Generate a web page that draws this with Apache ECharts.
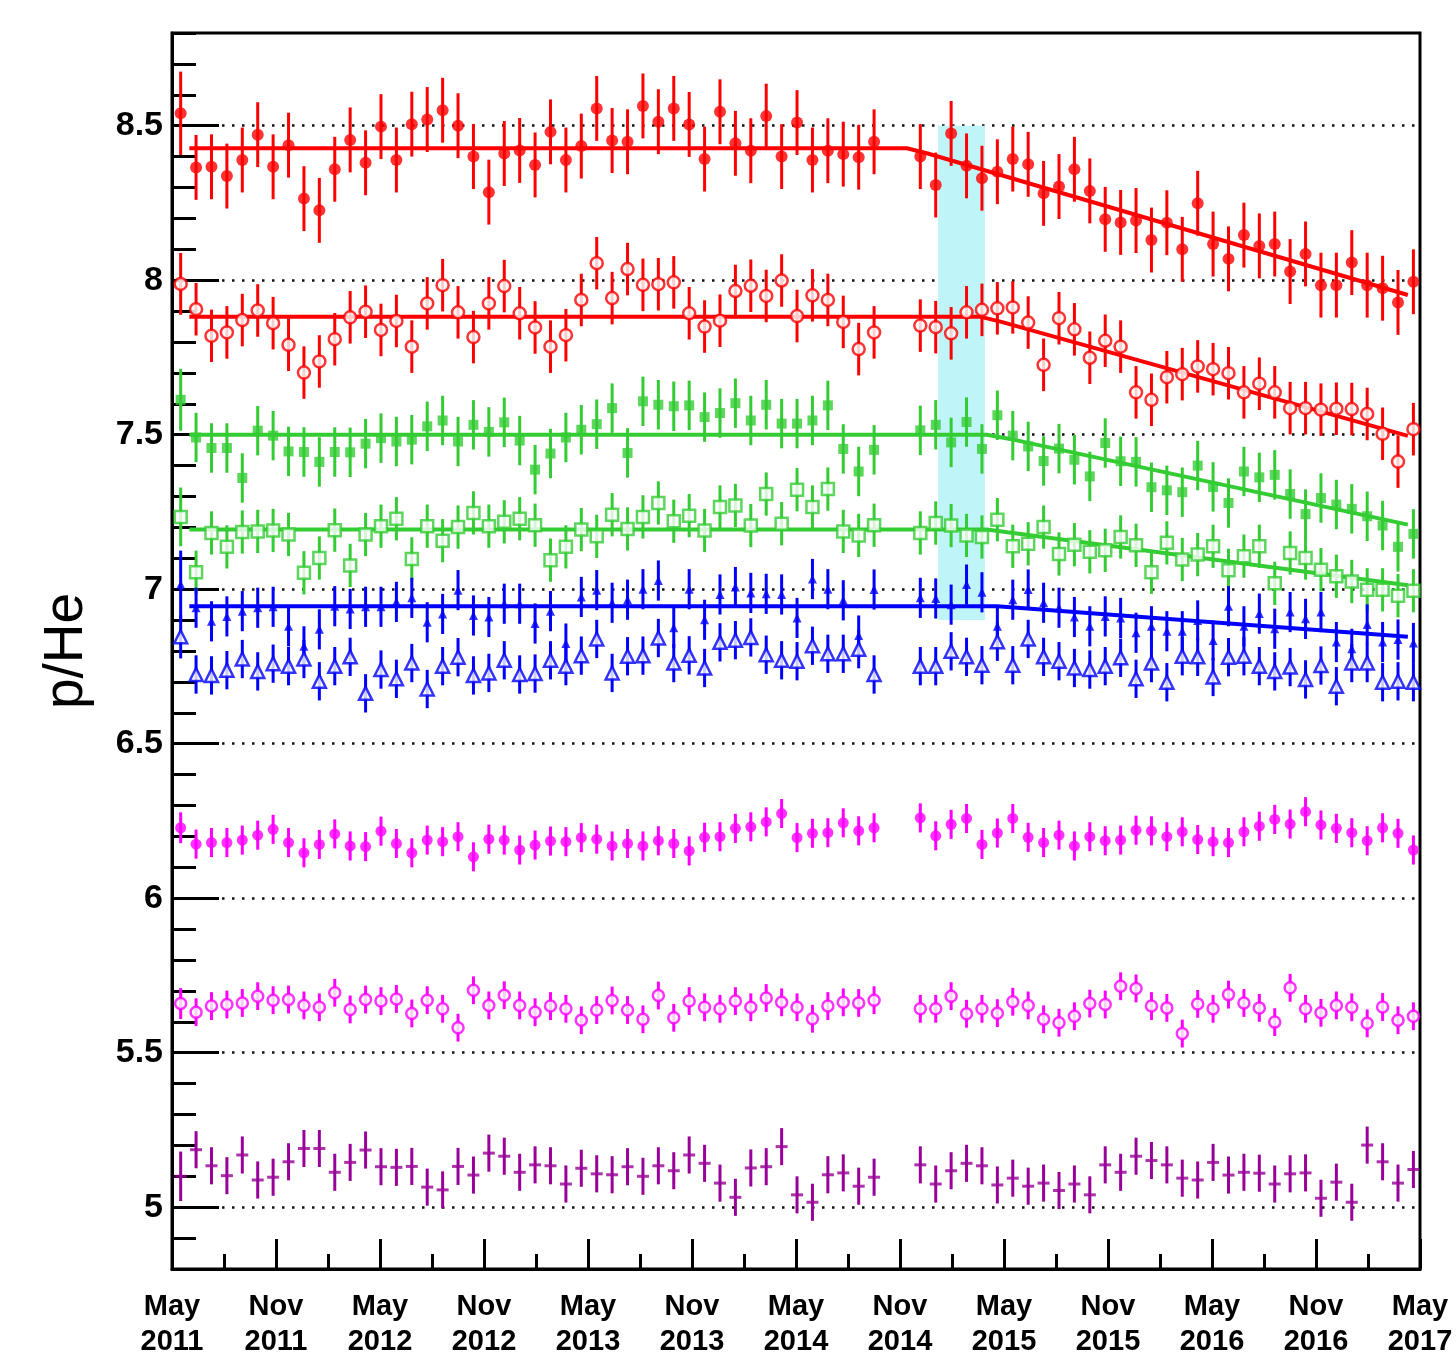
<!DOCTYPE html>
<html>
<head>
<meta charset="utf-8">
<title>p/He</title>
<script src="https://cdn.jsdelivr.net/npm/echarts@6/dist/echarts.min.js"></script>
<style>
    html, body { margin: 0; padding: 0; background: #fff; }
    #chart { width: 1456px; height: 1355px; }
</style>
</head>
<body>
<div id="chart"></div>
<script>
// p/He flux ratio per Bartels rotation, May 2011 - May 2017

// x: months since May 2011, one point per 27-day rotation (two rotations missing)
const rotationCount = 81;
const firstRotationMonth = 0.5;
const rotationMonths = 0.889;

const xTickLabels = ['May\n2011', 'Nov\n2011', 'May\n2012', 'Nov\n2012', 'May\n2013', 'Nov\n2013',
    'May\n2014', 'Nov\n2014', 'May\n2015', 'Nov\n2015', 'May\n2016', 'Nov\n2016', 'May\n2017'];
const yTickValues = [5, 5.5, 6, 6.5, 7, 7.5, 8, 8.5];

// series values (null = missing rotation)
const redFilled = [8.54, 8.365, 8.367, 8.337, 8.389, 8.471, 8.367, 8.437, 8.264, 8.226,
    8.359, 8.454, 8.38, 8.497, 8.389, 8.505, 8.52, 8.55, 8.50, 8.40,
    8.285, 8.41, 8.42, 8.373, 8.48, 8.389, 8.434, 8.556, 8.452, 8.448,
    8.564, 8.513, 8.556, 8.504, 8.392, 8.545, 8.443, 8.419, 8.531, 8.40,
    8.51, 8.389, 8.419, 8.408, 8.398, 8.448, null, null, 8.40, 8.308,
    8.475, 8.37, 8.33, 8.351, 8.392, 8.375, 8.281, 8.303, 8.359, 8.289,
    8.197, 8.187, 8.193, 8.13, 8.186, 8.10, 8.249, 8.117, 8.069, 8.146,
    8.111, 8.117, 8.028, 8.085, 7.984, 7.984, 8.057, 7.984, 7.974, 7.928, 7.995];
const redOpen = [7.988, 7.906, 7.82, 7.831, 7.871, 7.902, 7.861, 7.791, 7.701, 7.737,
    7.809, 7.88, 7.898, 7.839, 7.868, 7.785, 7.925, 7.984, 7.896, 7.816,
    7.925, 7.981, 7.893, 7.847, 7.785, 7.822, 7.936, 8.055, 7.942, 8.036,
    7.985, 7.987, 7.993, 7.893, 7.85, 7.869, 7.965, 7.982, 7.949, 7.999,
    7.884, 7.951, 7.936, 7.865, 7.777, 7.831, null, null, 7.853, 7.848,
    7.828, 7.896, 7.904, 7.909, 7.912, 7.863, 7.726, 7.877, 7.841, 7.749,
    7.804, 7.785, 7.637, 7.613, 7.686, 7.696, 7.721, 7.712, 7.699, 7.637,
    7.665, 7.637, 7.586, 7.586, 7.581, 7.584, 7.583, 7.567, 7.503, 7.413, 7.518];
const greenFilled = [7.613, 7.491, 7.457, 7.457, 7.36, 7.513, 7.497, 7.446, 7.444, 7.412,
    7.444, 7.443, 7.471, 7.489, 7.478, 7.484, 7.527, 7.546, 7.478, 7.532,
    7.509, 7.54, 7.481, 7.387, 7.439, 7.491, 7.516, 7.534, 7.586, 7.441,
    7.608, 7.597, 7.592, 7.595, 7.557, 7.57, 7.602, 7.546, 7.597, 7.536,
    7.536, 7.546, 7.595, 7.454, 7.381, 7.451, null, null, 7.514, 7.532,
    7.475, 7.541, 7.454, 7.563, 7.497, 7.462, 7.415, 7.455, 7.419, 7.365,
    7.473, 7.414, 7.412, 7.33, 7.32, 7.314, 7.40, 7.331, 7.279, 7.381,
    7.362, 7.37, 7.308, 7.243, 7.295, 7.274, 7.26, 7.236, 7.206, 7.137, 7.179];
const greenOpen = [7.234, 7.055, 7.182, 7.137, 7.185, 7.187, 7.19, 7.177, 7.053, 7.101,
    7.191, 7.077, 7.177, 7.204, 7.228, 7.098, 7.204, 7.157, 7.201, 7.247,
    7.204, 7.218, 7.228, 7.207, 7.094, 7.137, 7.193, 7.171, 7.241, 7.195,
    7.234, 7.279, 7.22, 7.238, 7.19, 7.266, 7.271, 7.206, 7.308, 7.212,
    7.322, 7.266, 7.324, 7.187, 7.174, 7.207, null, null, 7.182, 7.214,
    7.206, 7.174, 7.169, 7.225, 7.139, 7.147, 7.201, 7.114, 7.144, 7.121,
    7.126, 7.169, 7.142, 7.055, 7.15, 7.096, 7.112, 7.139, 7.061, 7.107,
    7.139, 7.019, 7.117, 7.101, 7.063, 7.042, 7.025, 6.998, 6.998, 6.979, 6.995];
const blueFilled = [7.015, 6.94, 6.896, 6.912, 6.929, 6.94, 6.943, 6.88, 6.815, 6.87,
    6.945, 6.936, 6.943, 6.943, 6.959, 6.972, 6.893, 6.92, 6.997, 6.915,
    6.91, 6.953, 6.953, 6.889, 6.929, 6.824, 6.975, 6.997, 6.956, 6.966,
    7.0, 7.028, 6.875, 7.0, 6.901, 6.983, 7.007, 6.988, 6.985, 6.983,
    6.907, 7.033, 7.0, 6.964, 6.85, 6.999, null, null, 6.972, 6.97,
    6.95, 7.015, 6.99, 6.88, 6.966, 6.999, 6.956, 6.94, 6.91, 6.88,
    6.912, 6.907, 6.859, 6.88, 6.864, 6.864, 6.899, 6.834, 6.945, 6.88,
    6.921, 6.872, 6.926, 6.904, 6.926, 6.829, 6.807, 6.886, 6.829, 6.837, 6.826];
const blueOpen = [6.846, 6.724, 6.721, 6.738, 6.774, 6.734, 6.759, 6.751, 6.774, 6.702,
    6.751, 6.781, 6.663, 6.74, 6.71, 6.761, 6.677, 6.751, 6.78, 6.721,
    6.729, 6.77, 6.724, 6.727, 6.77, 6.751, 6.785, 6.839, 6.729, 6.783,
    6.785, 6.842, 6.761, 6.786, 6.745, 6.828, 6.835, 6.844, 6.788, 6.77,
    6.767, 6.817, 6.791, 6.791, 6.806, 6.724, null, null, 6.751, 6.751,
    6.799, 6.781, 6.754, 6.83, 6.754, 6.839, 6.781, 6.767, 6.745, 6.74,
    6.751, 6.778, 6.71, 6.761, 6.699, 6.783, 6.781, 6.716, 6.78, 6.783,
    6.751, 6.734, 6.748, 6.708, 6.753, 6.686, 6.761, 6.761, 6.699, 6.702, 6.699];
const magentaFilled = [6.228, 6.175, 6.18, 6.18, 6.188, 6.204, 6.223, 6.18, 6.147, 6.174,
    6.208, 6.169, 6.167, 6.217, 6.177, 6.147, 6.188, 6.183, 6.199, 6.134,
    6.191, 6.188, 6.156, 6.172, 6.185, 6.183, 6.196, 6.191, 6.169, 6.177,
    6.169, 6.186, 6.177, 6.153, 6.197, 6.199, 6.226, 6.231, 6.247, 6.274,
    6.196, 6.21, 6.212, 6.244, 6.218, 6.228, null, null, 6.26, 6.202,
    6.239, 6.258, 6.174, 6.211, 6.258, 6.197, 6.18, 6.204, 6.169, 6.199,
    6.186, 6.188, 6.22, 6.218, 6.199, 6.215, 6.19, 6.183, 6.18, 6.215,
    6.233, 6.255, 6.24, 6.28, 6.237, 6.226, 6.212, 6.186, 6.228, 6.21, 6.156];
const magentaOpen = [5.659, 5.631, 5.651, 5.656, 5.661, 5.683, 5.67, 5.672, 5.653, 5.647,
    5.694, 5.64, 5.672, 5.667, 5.674, 5.627, 5.67, 5.642, 5.581, 5.702,
    5.653, 5.686, 5.653, 5.631, 5.651, 5.642, 5.605, 5.638, 5.669, 5.638,
    5.608, 5.685, 5.613, 5.667, 5.647, 5.642, 5.667, 5.647, 5.677, 5.663,
    5.647, 5.61, 5.651, 5.663, 5.661, 5.67, null, null, 5.642, 5.642,
    5.683, 5.626, 5.642, 5.628, 5.665, 5.653, 5.608, 5.597, 5.618, 5.659,
    5.656, 5.715, 5.708, 5.651, 5.645, 5.562, 5.658, 5.642, 5.688, 5.661,
    5.645, 5.599, 5.71, 5.642, 5.629, 5.653, 5.647, 5.595, 5.648, 5.605, 5.618];
const purpleCross = [5.1, 5.186, 5.134, 5.102, 5.169, 5.088, 5.097, 5.147, 5.19, 5.19,
    5.113, 5.145, 5.185, 5.131, 5.129, 5.132, 5.065, 5.056, 5.132, 5.104,
    5.175, 5.165, 5.113, 5.137, 5.134, 5.075, 5.126, 5.108, 5.105, 5.131,
    5.1, 5.134, 5.118, 5.169, 5.142, 5.078, 5.032, 5.127, 5.131, 5.196,
    5.04, 5.016, 5.105, 5.111, 5.068, 5.097, null, null, 5.137, 5.075,
    5.118, 5.142, 5.134, 5.072, 5.094, 5.068, 5.078, 5.054, 5.075, 5.04,
    5.137, 5.113, 5.165, 5.151, 5.137, 5.094, 5.088, 5.145, 5.104, 5.113,
    5.11, 5.075, 5.108, 5.111, 5.029, 5.081, 5.016, 5.201, 5.147, 5.078, 5.122];

// error bar half-lengths (first rotation has a larger one)
const errRedFilled = [0.135, 0.105];
const errRedOpen = [0.1, 0.085];
const errGreenFilled = [0.1, 0.08];
const errGreenOpen = [0.095, 0.07];
const errBlueFilled = [0.11, 0.065];
const errBlueOpen = [0.07, 0.062];
const errMagentaFilled = [0.05, 0.047];
const errMagentaOpen = [0.05, 0.045];
const errPurple = [0.08, 0.06];

// fitted trends: [month, p/He]
const fitRedFilled = [[1.0, 8.427], [42.4, 8.427], [43.6, 8.41], [71.3, 7.952]];
const fitRedOpen = [[1.0, 7.882], [46.6, 7.882], [47.8, 7.866], [71.3, 7.496]];
const fitGreenFilled = [[1.0, 7.50], [47.0, 7.50], [48.2, 7.488], [71.3, 7.209]];
const fitGreenOpen = [[1.0, 7.193], [47.0, 7.193], [48.2, 7.184], [71.3, 7.013]];
const fitBlue = [[1.0, 6.945], [47.6, 6.945], [71.3, 6.846]];

// shaded interval: [month from, month to], [p/He low, p/He high]
const bandMonths = [44.2, 46.9];
const bandValues = [6.9, 8.5];

const rotationTimes = [];
for (let i = 0; i < rotationCount; i++) {
    rotationTimes.push(firstRotationMonth + rotationMonths * i);
}

function toPoints(values, err) {
    const pts = [];
    values.forEach((v, i) => {
        if (v === null) return;
        pts.push([rotationTimes[i], v, i === 0 ? err[0] : err[1]]);
    });
    return pts;
}

// 误差棒
function errorBarSeries(values, err, color, width) {
    return {
        type: 'custom',
        z: 3,
        silent: true,
        data: toPoints(values, err),
        renderItem: function (params, api) {
            const x = api.value(0), y = api.value(1), e = api.value(2);
            const hi = api.coord([x, y + e]);
            const lo = api.coord([x, y - e]);
            return {
                type: 'line',
                shape: { x1: hi[0], y1: hi[1], x2: lo[0], y2: lo[1] },
                style: { stroke: color, lineWidth: width }
            };
        }
    };
}

// 数据点
function markerSeries(values, err, color, symbol, size, open) {
    return {
        type: 'scatter',
        z: 5,
        silent: true,
        symbol: symbol,
        symbolSize: size,
        data: toPoints(values, err).map(p => [p[0], p[1]]),
        itemStyle: open
            ? { color: '#fff', borderColor: color, borderWidth: 2.5 }
            : { color: color, borderWidth: 0 }
    };
}

function fitSeries(points, color) {
    return {
        type: 'line',
        z: 4,
        silent: true,
        showSymbol: false,
        symbol: 'none',
        data: points,
        lineStyle: { color: color, width: 4 }
    };
}

const RED = '#ff0000';
const GREEN = '#33cc33';
const BLUE = '#0000ff';
const MAGENTA = '#ff00ff';
const PURPLE = '#990099';

const chart = echarts.init(document.getElementById('chart'));

const option = {
    animation: false,
    backgroundColor: '#fff',
    grid: {
        left: 172, right: 36, top: 33, bottom: 86,
        outerBoundsMode: 'none',
        containLabel: false,
        show: true, borderColor: '#000', borderWidth: 3, backgroundColor: 'transparent'
    },
    xAxis: {
        type: 'value',
        min: 0, max: 72, interval: 6,
        axisLine: { show: true, onZero: false, lineStyle: { color: '#000', width: 3 } },
        axisTick: { show: true, inside: true, length: 30, lineStyle: { color: '#000', width: 3 } },
        minorTick: { show: true, splitNumber: 2, length: 15, lineStyle: { color: '#000', width: 3 } },
        axisLabel: {
            formatter: v => xTickLabels[Math.round(v / 6)] || '',
            fontFamily: 'Liberation Sans', fontWeight: 'bold', fontSize: 29,
            lineHeight: 35, color: '#000', margin: 20
        },
        splitLine: { show: false }
    },
    yAxis: [
        {
            type: 'value',
            min: 4.8, max: 8.8,
            name: 'p/He',
            nameLocation: 'middle',
            nameGap: 78,
            nameTextStyle: { fontFamily: 'Liberation Sans', fontSize: 55, color: '#000' },
            axisLine: { show: true, onZero: false, lineStyle: { color: '#000', width: 3 } },
            axisTick: { show: true, inside: true, length: 47, customValues: yTickValues,
                lineStyle: { color: '#000', width: 3 } },
            axisLabel: {
                customValues: yTickValues,
                formatter: v => String(v),
                fontFamily: 'Liberation Sans', fontWeight: 'bold', fontSize: 34,
                color: '#000', margin: 9
            },
            splitLine: { show: true, lineStyle: { color: '#111', width: 2.5, type: [2.5, 7.5] } }
        },
        {
            type: 'value',
            min: 4.8, max: 8.8, interval: 0.1,
            position: 'left',
            axisLine: { show: false },
            axisTick: { show: true, inside: true, length: 24, lineStyle: { color: '#000', width: 3 } },
            axisLabel: { show: false },
            splitLine: { show: false }
        }
    ],
    series: [
        {
            type: 'line',
            z: 1,
            silent: true,
            symbol: 'none',
            data: [],
            markArea: {
                silent: true,
                itemStyle: { color: '#bff4f9' },
                data: [[
                    { coord: [bandMonths[0], bandValues[1]] },
                    { coord: [bandMonths[1], bandValues[0]] }
                ]]
            }
        },
        errorBarSeries(redFilled, errRedFilled, RED, 3),
        errorBarSeries(redOpen, errRedOpen, RED, 3),
        errorBarSeries(greenFilled, errGreenFilled, GREEN, 3),
        errorBarSeries(greenOpen, errGreenOpen, GREEN, 3),
        errorBarSeries(blueFilled, errBlueFilled, BLUE, 3),
        errorBarSeries(blueOpen, errBlueOpen, BLUE, 3),
        errorBarSeries(magentaFilled, errMagentaFilled, MAGENTA, 3),
        errorBarSeries(magentaOpen, errMagentaOpen, MAGENTA, 3),
        errorBarSeries(purpleCross, errPurple, PURPLE, 3),
        fitSeries(fitRedFilled, RED),
        fitSeries(fitRedOpen, RED),
        fitSeries(fitGreenFilled, GREEN),
        fitSeries(fitGreenOpen, GREEN),
        fitSeries(fitBlue, BLUE),
        markerSeries(redFilled, errRedFilled, RED, 'circle', 12, false),
        markerSeries(redOpen, errRedOpen, RED, 'circle', 12, true),
        markerSeries(greenFilled, errGreenFilled, GREEN, 'rect', 10, false),
        markerSeries(greenOpen, errGreenOpen, GREEN, 'rect', 12, true),
        markerSeries(blueFilled, errBlueFilled, BLUE, 'triangle', 9, false),
        markerSeries(blueOpen, errBlueOpen, BLUE, 'triangle', 13, true),
        markerSeries(magentaFilled, errMagentaFilled, MAGENTA, 'circle', 11, false),
        markerSeries(magentaOpen, errMagentaOpen, MAGENTA, 'circle', 11, true),
        markerSeries(purpleCross, errPurple, PURPLE, 'path://M0,0H10V3H0Z', [12, 3], false)
    ]
};

chart.setOption(option);
window.addEventListener('resize', () => chart.resize());
</script>
</body>
</html>
